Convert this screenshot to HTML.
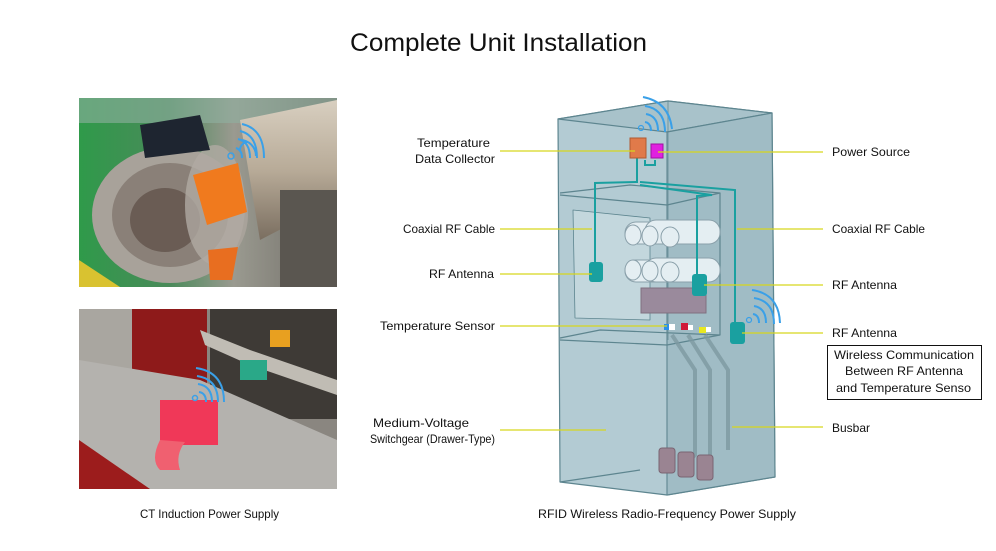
<!DOCTYPE html>
<html><head><meta charset="utf-8"><style>html,body{margin:0;padding:0;background:#fff}svg{display:block}</style></head>
<body>
<svg width="996" height="551" viewBox="0 0 996 551" xmlns="http://www.w3.org/2000/svg" font-family="Liberation Sans, sans-serif">
<rect width="996" height="551" fill="#fff"/>
<text x="350" y="51" font-size="25" textLength="297" lengthAdjust="spacingAndGlyphs" fill="#111">Complete Unit Installation</text>

<!-- Photo 1 -->
<defs>
<linearGradient id="g1" x1="0" y1="0" x2="1" y2="0"><stop offset="0" stop-color="#2f9a4a"/><stop offset="0.35" stop-color="#4a8a5a"/><stop offset="0.6" stop-color="#9a9a90"/><stop offset="1" stop-color="#6e6a64"/></linearGradient>
<linearGradient id="g2" x1="0" y1="0" x2="1" y2="1"><stop offset="0" stop-color="#c8c4bc"/><stop offset="0.5" stop-color="#8c8a86"/><stop offset="1" stop-color="#3a3430"/></linearGradient>
<linearGradient id="cyl" x1="0" y1="0" x2="0" y2="1"><stop offset="0" stop-color="#d8cfc0"/><stop offset="0.5" stop-color="#b8ab98"/><stop offset="1" stop-color="#7a6e60"/></linearGradient>
</defs>
<rect x="79" y="98" width="258" height="189" fill="url(#g1)"/>
<rect x="79" y="98" width="258" height="25" fill="#8fb0a0" opacity="0.6"/>
<polygon points="79,260 79,287 120,287" fill="#d9c230"/>
<polygon points="240,120 337,100 337,200 260,240" fill="url(#cyl)"/>
<rect x="280" y="190" width="57" height="97" fill="#5a5650"/>
<ellipse cx="170" cy="215" rx="78" ry="68" fill="#a8a29a"/>
<ellipse cx="170" cy="215" rx="58" ry="52" fill="#8a8078"/>
<ellipse cx="165" cy="220" rx="35" ry="32" fill="#6a5c54"/>
<ellipse cx="215" cy="205" rx="30" ry="60" fill="#b0aaa2" opacity="0.8"/>
<path d="M140 125 L200 115 L210 150 L145 158 Z" fill="#1e2530"/>
<path d="M193 175 L238 163 L247 212 L207 225 Z" fill="#f07a1e"/>
<path d="M208 250 L238 247 L232 280 L210 280 Z" fill="#e86e20"/>
<g fill="none" stroke="#3aa0e8" stroke-width="2"><path d="M240 150 a8 8 0 0 1 8 -8"/><path d="M240 140 a16 16 0 0 1 16 16" transform="translate(0,0)"/></g>
<circle cx="231" cy="156" r="3" fill="none" stroke="#3aa0e8" stroke-width="1.5"/>
<g fill="none" stroke="#3aa0e8" stroke-width="2"><path d="M236 148 q6 2 6 10"/><path d="M238 139 q12 3 12 19"/><path d="M240 131 q17 4 17 27"/><path d="M242 124 q22 5 22 34"/></g>

<!-- Photo 2 -->
<rect x="79" y="309" width="258" height="180" fill="#8a8680"/>
<rect x="79" y="309" width="60" height="180" fill="#a9a6a0"/>
<rect x="132" y="309" width="75" height="180" fill="#8e1a1a"/>
<rect x="210" y="309" width="127" height="110" fill="#3e3a36"/>
<polygon points="79,360 200,380 337,440 337,489 79,489" fill="#b4b2ae"/>
<polygon points="79,440 150,489 79,489" fill="#9c1c1c"/>
<polygon points="200,330 250,350 337,380 337,395 250,365 205,345" fill="#c0bcb4"/>
<rect x="160" y="400" width="58" height="45" fill="#f03858"/>
<path d="M160 440 q-10 20 0 30 l20 0 q-5 -15 5 -28 Z" fill="#f06070"/>
<rect x="240" y="360" width="27" height="20" fill="#2aa888"/>
<rect x="270" y="330" width="20" height="17" fill="#e8a020"/>
<circle cx="195" cy="398" r="2.5" fill="none" stroke="#3aa0e8" stroke-width="1.5"/>
<g fill="none" stroke="#3aa0e8" stroke-width="2"><path d="M199 392 q7 1 7 10"/><path d="M198 384 q14 2 14 18"/><path d="M197 376 q21 3 21 26"/><path d="M196 368 q28 4 28 34"/></g>

<!-- Cabinet -->
<g stroke="#5d858f" stroke-width="1.2" stroke-linejoin="round">
<polygon points="558,119 668,101 772,113 775,477 667,495 560,482" fill="#b3cbd3"/>
<polygon points="558,119 668,101 772,113 667,132" fill="#a8c2ca"/>
<polygon points="667,132 772,113 775,477 667,495" fill="#9fbbc4" opacity="0.9"/>
<line x1="668" y1="101" x2="668" y2="340" stroke-opacity="0.6"/>
<polyline points="560,193 630,185 720,193 667,205 560,195" fill="none"/>
<polyline points="560,338 600,330 720,335 667,345 560,340" fill="none"/>
<polygon points="573,210 650,218 650,320 575,318" fill="#c3d7dd" stroke-width="0.8"/>
<line x1="720" y1="193" x2="720" y2="335"/>
<line x1="560" y1="482" x2="640" y2="470"/>
</g>
<!-- pipes -->
<g fill="#e4eef2" stroke="#8aa0aa" stroke-width="1">
<rect x="625" y="222" width="75" height="22" rx="11"/><rect x="645" y="220" width="75" height="24" rx="11"/>
<ellipse cx="633" cy="235" rx="8" ry="10"/><ellipse cx="650" cy="236" rx="8" ry="10"/><ellipse cx="670" cy="237" rx="9" ry="10"/>
<rect x="625" y="260" width="75" height="22" rx="11"/><rect x="645" y="258" width="75" height="24" rx="11"/>
<ellipse cx="633" cy="270" rx="8" ry="10"/><ellipse cx="650" cy="271" rx="8" ry="10"/><ellipse cx="670" cy="272" rx="9" ry="10"/>
</g>
<rect x="641" y="288" width="65" height="25" fill="#9a8a9c" stroke="#807080"/>
<!-- busbars -->
<g fill="none" stroke="#7e9aa2" stroke-width="4" opacity="0.8">
<polyline points="672,335 695,370 695,455 690,460"/><polyline points="688,335 710,370 710,455"/><polyline points="705,335 728,370 728,450"/>
</g>
<g fill="#9a8492" stroke="#7a6472"><rect x="659" y="448" width="16" height="25" rx="3"/><rect x="678" y="452" width="16" height="25" rx="3"/><rect x="697" y="455" width="16" height="25" rx="3"/></g>
<!-- sensors -->
<rect x="664" y="324" width="5" height="6" fill="#2a90e8"/><rect x="669" y="324" width="6" height="6" fill="#fff"/>
<rect x="681" y="323" width="7" height="7" fill="#d01838"/><rect x="688" y="325" width="5" height="5" fill="#fff"/>
<rect x="699" y="327" width="7" height="6" fill="#e8e820"/><rect x="706" y="327" width="5" height="5" fill="#fff"/>
<!-- cables -->
<g fill="none" stroke="#1aa0a0" stroke-width="2">
<polyline points="637,158 637,182 595,183 595,262"/>
<polyline points="640,182 735,190 735,322"/>
<polyline points="640,185 712,195 697,196 697,275"/>
<polyline points="645,160 645,165 655,165 655,160"/>
</g>
<rect x="589" y="262" width="14" height="20" rx="3" fill="#1aa0a0"/>
<rect x="692" y="274" width="15" height="22" rx="3" fill="#1aa0a0"/>
<rect x="730" y="322" width="15" height="22" rx="3" fill="#1aa0a0"/>
<rect x="630" y="138" width="16" height="20" fill="#e07a4a" stroke="#b05a30"/>
<rect x="651" y="144" width="12" height="14" fill="#e020e0" stroke="#a010a0"/>
<g fill="none" stroke="#3aa0e8" stroke-width="2">
<circle cx="641" cy="128" r="2.5" stroke-width="1.2"/>
<path d="M645 122 q6 1 6 9"/><path d="M646 114 q12 2 12 17"/><path d="M645 106 q20 3 20 26"/><path d="M643 97 q26 5 29 32"/>
<circle cx="749" cy="320" r="2.5" stroke-width="1.2"/>
<path d="M753 314 q6 1 6 9"/><path d="M754 306 q12 2 12 17"/><path d="M754 298 q20 3 20 26"/><path d="M752 290 q27 4 28 33"/>
</g>

<!-- leader lines -->
<g stroke="#d6d61e" stroke-width="1.2">
<line x1="500" y1="151" x2="635" y2="151"/>
<line x1="500" y1="229" x2="592" y2="229"/>
<line x1="500" y1="274" x2="592" y2="274"/>
<line x1="500" y1="326" x2="667" y2="326"/>
<line x1="500" y1="430" x2="606" y2="430"/>
<line x1="658" y1="152" x2="823" y2="152"/>
<line x1="737" y1="229" x2="823" y2="229"/>
<line x1="704" y1="285" x2="823" y2="285"/>
<line x1="742" y1="333" x2="823" y2="333"/>
<line x1="732" y1="427" x2="823" y2="427"/>
</g>

<g font-size="12" fill="#111">
<text x="417" y="147" textLength="73" lengthAdjust="spacingAndGlyphs">Temperature</text>
<text x="415" y="163" textLength="80" lengthAdjust="spacingAndGlyphs">Data Collector</text>
<text x="403" y="233" textLength="92" lengthAdjust="spacingAndGlyphs">Coaxial RF Cable</text>
<text x="429" y="278" textLength="65" lengthAdjust="spacingAndGlyphs">RF Antenna</text>
<text x="380" y="330" textLength="115" lengthAdjust="spacingAndGlyphs">Temperature Sensor</text>
<text x="373" y="427" textLength="96" lengthAdjust="spacingAndGlyphs">Medium-Voltage</text>
<text x="370" y="443" textLength="125" lengthAdjust="spacingAndGlyphs">Switchgear (Drawer-Type)</text>
<text x="832" y="156" textLength="78" lengthAdjust="spacingAndGlyphs">Power Source</text>
<text x="832" y="233" textLength="93" lengthAdjust="spacingAndGlyphs">Coaxial RF Cable</text>
<text x="832" y="289" textLength="65" lengthAdjust="spacingAndGlyphs">RF Antenna</text>
<text x="832" y="337" textLength="65" lengthAdjust="spacingAndGlyphs">RF Antenna</text>
<text x="834" y="359" textLength="140" lengthAdjust="spacingAndGlyphs">Wireless Communication</text>
<text x="845" y="375" textLength="118" lengthAdjust="spacingAndGlyphs">Between RF Antenna</text>
<text x="836" y="392" textLength="135" lengthAdjust="spacingAndGlyphs">and Temperature Senso</text>
<text x="832" y="432" textLength="38" lengthAdjust="spacingAndGlyphs">Busbar</text>
<text x="140" y="518" textLength="139" lengthAdjust="spacingAndGlyphs">CT Induction Power Supply</text>
<text x="538" y="518" textLength="258" lengthAdjust="spacingAndGlyphs">RFID Wireless Radio-Frequency Power Supply</text>
</g>
<rect x="827.5" y="345.5" width="154" height="54" fill="none" stroke="#111" stroke-width="1"/>
</svg>
</body></html>
